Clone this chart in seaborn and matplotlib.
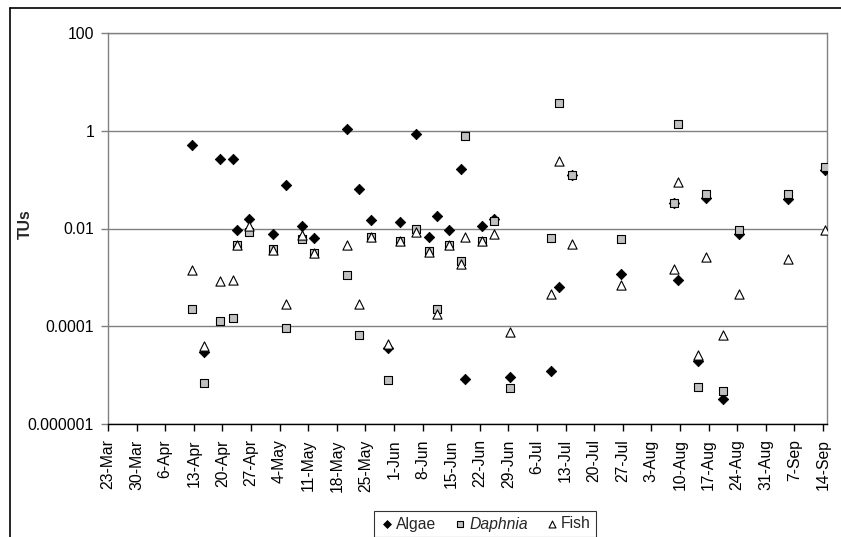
import matplotlib
matplotlib.use("Agg")
import matplotlib.pyplot as plt
from matplotlib.lines import Line2D
from matplotlib.ticker import FixedLocator, FixedFormatter, NullLocator
import seaborn as sns
import pandas as pd

# ---- data ----
sample_dates = ["2009-04-12", "2009-04-15", "2009-04-19", "2009-04-22", "2009-04-23", "2009-04-26",
                "2009-05-02", "2009-05-05", "2009-05-09", "2009-05-12", "2009-05-20", "2009-05-23",
                "2009-05-26", "2009-05-30", "2009-06-02", "2009-06-06", "2009-06-09", "2009-06-11",
                "2009-06-14", "2009-06-17", "2009-06-18", "2009-06-22", "2009-06-25", "2009-06-29",
                "2009-07-09", "2009-07-11", "2009-07-14", "2009-07-26", "2009-08-08", "2009-08-09",
                "2009-08-14", "2009-08-16", "2009-08-20", "2009-08-24", "2009-09-05", "2009-09-14"]

algae = [0.52, 3.0e-5, 0.26, 0.27, 0.0093, 0.016,
         0.0078, 0.079, 0.011, 0.0065, 1.1, 0.064,
         0.0146, 3.6e-5, 0.0139, 0.86, 0.0068, 0.0179,
         0.0095, 0.167, 8.3e-6, 0.011, 0.0153, 9.3e-6,
         1.23e-5, 6.3e-4, 0.125, 1.17e-3, 0.034, 8.8e-4,
         1.95e-5, 0.042, 3.2e-6, 0.0076, 0.041, 0.154]

daphnia = [2.3e-4, 6.9e-6, 1.3e-4, 1.45e-4, 0.0045, 0.0085,
           0.0038, 9.3e-5, 0.006, 0.0031, 0.0011, 6.7e-5,
           0.0068, 8.1e-6, 0.0055, 0.0098, 0.0034, 2.27e-4,
           0.0045, 0.0022, 0.79, 0.0055, 0.014, 5.5e-6,
           0.0063, 3.7, 0.124, 0.006, 0.034, 1.35,
           5.6e-6, 0.052, 4.7e-6, 0.0093, 0.05, 0.18]

fish = [1.4e-3, 3.9e-5, 8.3e-4, 8.7e-4, 0.0045, 0.011,
        0.0037, 2.8e-4, 0.0074, 0.0031, 0.0046, 2.8e-4,
        0.0068, 4.4e-5, 0.0055, 0.0086, 0.0033, 1.8e-4,
        0.0045, 0.0019, 0.0066, 0.0055, 0.0079, 7.7e-5,
        4.5e-4, 0.24, 0.0048, 7.1e-4, 1.48e-3, 0.091,
        2.6e-5, 0.0026, 6.5e-5, 4.5e-4, 0.0024, 0.0093]

series_names = ["Algae", "Daphnia", "Fish"]
y_ticks = [1e2, 1, 1e-2, 1e-4, 1e-6]
y_tick_labels = ["100", "1", "0.01", "0.0001", "0.000001"]
x_start = "2009-03-23"
x_end = "2009-09-15"
x_last_tick = "2009-09-14"

# ---- build table ----
dates = pd.to_datetime(sample_dates) + pd.Timedelta(hours=12)
df = pd.concat([
    pd.DataFrame({"date": dates, "TU": algae, "group": "Algae"}),
    pd.DataFrame({"date": dates, "TU": daphnia, "group": "Daphnia"}),
    pd.DataFrame({"date": dates, "TU": fish, "group": "Fish"}),
], ignore_index=True)

sns.set_theme(style="white")
plt.rcParams["font.family"] = ["Liberation Sans", "DejaVu Sans"]
FS = 11.3

fig = plt.figure(figsize=(8.41, 5.37), dpi=100)
ax = fig.add_axes([108 / 841, 1 - 424 / 537, (827 - 108) / 841, (424 - 33) / 537])

styles = {
    "Algae": dict(marker="D", color="black", edgecolor="black", s=28, linewidth=0.6),
    "Daphnia": dict(marker="s", color="#c0c0c0", edgecolor="black", s=38, linewidth=0.8),
    "Fish": dict(marker="^", color="white", edgecolor="black", s=44, linewidth=0.8),
}
for name in series_names:
    sub = df[df["group"] == name]
    sns.scatterplot(data=sub, x="date", y="TU", ax=ax, label=name, zorder=3, **styles[name])

ax.set_yscale("log")
ax.set_ylim(1e-6, 1e2)
ax.yaxis.set_major_locator(FixedLocator(y_ticks))
ax.yaxis.set_major_formatter(FixedFormatter(y_tick_labels))
ax.yaxis.set_minor_locator(NullLocator())
ax.grid(axis="y", color="#808080", linewidth=1.0)
ax.set_axisbelow(True)

ax.set_xlim(pd.Timestamp(x_start), pd.Timestamp(x_end))
ticks = pd.date_range(x_start, x_last_tick, freq="7D")
ax.set_xticks(ticks)
ax.set_xticklabels([f"{d.day}-{d.strftime('%b')}" for d in ticks], rotation=90)

ax.tick_params(axis="both", which="major", direction="out", length=5, width=1,
               color="#808080", labelsize=FS, labelcolor="black",
               left=True, bottom=True)
ax.tick_params(axis="y", pad=5)
ax.tick_params(axis="x", color="black", pad=6)

for side in ["left", "right", "top"]:
    ax.spines[side].set_color("#808080")
    ax.spines[side].set_linewidth(1.0)
ax.spines["bottom"].set_color("black")
ax.spines["bottom"].set_linewidth(1.0)

ax.set_xlabel("")
ax.set_ylabel("TUs", fontsize=FS, fontweight="bold")
ax.yaxis.set_label_coords((33 - 108) / 719, 0.51)

leg = ax.legend(loc="center", bbox_to_anchor=(485 / 841, 1 - 524 / 537),
                bbox_transform=fig.transFigure, ncol=3, frameon=True,
                fancybox=False, edgecolor="black", fontsize=FS,
                handletextpad=0.1, columnspacing=1.0, borderpad=0.35,
                handlelength=1.0, markerscale=0.75)
leg.get_frame().set_linewidth(0.8)
leg.get_texts()[1].set_style("italic")

# outer chart border (partially visible)
fig.add_artist(Line2D([10 / 841, 10 / 841], [0, 1 - 8 / 537], transform=fig.transFigure,
                      color="black", linewidth=1.2))
fig.add_artist(Line2D([10 / 841, 1], [1 - 8 / 537, 1 - 8 / 537], transform=fig.transFigure,
                      color="black", linewidth=1.2))

fig.savefig("out.png", dpi=100)
